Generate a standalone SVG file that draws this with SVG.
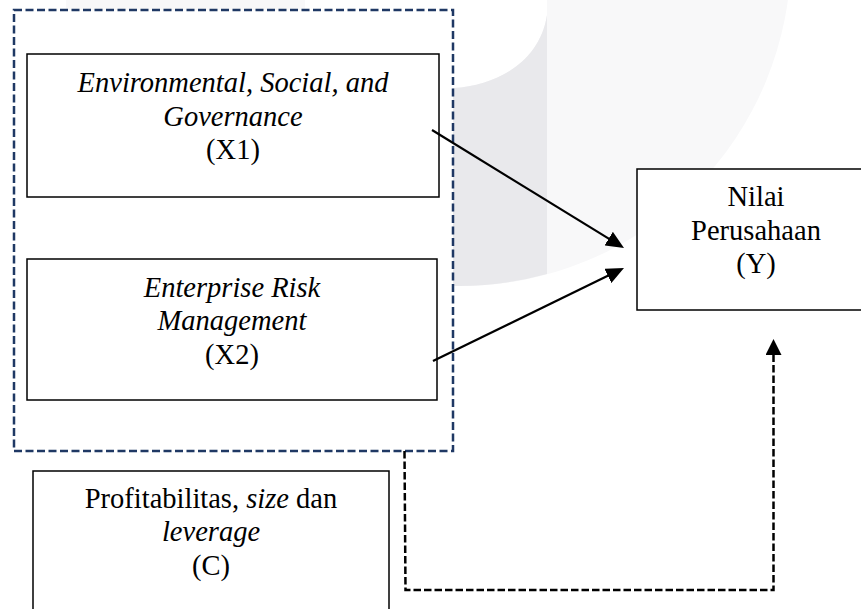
<svg xmlns="http://www.w3.org/2000/svg" width="861" height="609" viewBox="0 0 861 609">
  <defs>
    <style>
      .box { fill: #ffffff; stroke: #000000; stroke-width: 1.5; }
      .grp { fill: #ffffff; stroke: #1f3864; stroke-width: 2.5; stroke-dasharray: 8 3.5; }
      .t { font-family: 'Liberation Serif', 'Times New Roman', Times, 'DejaVu Serif', serif; font-size: 28.5px; fill: #000000; text-anchor: middle; }
      .i { font-style: italic; }
      .solid { fill: none; stroke: #000000; stroke-width: 2.2; }
      .dash { fill: none; stroke: #000000; stroke-width: 2.5; stroke-dasharray: 7.5 3; }
    </style>
    <marker id="ah" markerUnits="userSpaceOnUse" markerWidth="18" markerHeight="16" viewBox="0 0 18 16" refX="12" refY="8" orient="auto">
      <path d="M0,0 L18,8 L0,16 Z" fill="#000000"/>
    </marker>
    <marker id="ah2" markerUnits="userSpaceOnUse" markerWidth="16" markerHeight="16" viewBox="0 0 16 16" refX="10" refY="8" orient="auto">
      <path d="M0,0 L16,8 L0,16 Z" fill="#000000"/>
    </marker>
  </defs>

  <rect x="0" y="0" width="861" height="609" fill="#ffffff"/>

  <g id="watermark">
    <circle cx="460" cy="-45" r="331" fill="#f8f8f9"/>
    <rect x="66" y="0" width="239" height="14" fill="#f8f8f9"/>
    <path d="M305,0 L547,0 L547,15 C540,60 500,85 453,88 L305,88 Z" fill="#ffffff"/>
    <path d="M547,15 C540,60 500,85 453,88 L440,88 L440,285.4 A331,331 0 0 0 547,274 Z" fill="#e9e9ec"/>
  </g>

  <g id="group-box">
    <rect class="grp" x="14" y="10" width="439" height="441"/>
  </g>

  <g id="node-x1">
    <rect class="box" x="27" y="54" width="412" height="143"/>
    <text class="t i" x="233" y="92" font-family="Liberation Serif, serif">Environmental, Social, and</text>
    <text class="t i" x="233" y="125.5" font-family="Liberation Serif, serif">Governance</text>
    <text class="t" x="233" y="159" font-family="Liberation Serif, serif">(X1)</text>
  </g>

  <g id="node-x2">
    <rect class="box" x="27" y="259" width="410" height="141"/>
    <text class="t i" x="232" y="297" font-family="Liberation Serif, serif">Enterprise Risk</text>
    <text class="t i" x="232" y="330" font-family="Liberation Serif, serif">Management</text>
    <text class="t" x="232" y="364" font-family="Liberation Serif, serif">(X2)</text>
  </g>

  <g id="node-c">
    <rect class="box" x="33" y="471" width="356" height="160"/>
    <text class="t" x="211" y="508" font-family="Liberation Serif, serif">Profitabilitas, <tspan class="i">size</tspan> dan</text>
    <text class="t i" x="211" y="541" font-family="Liberation Serif, serif">leverage</text>
    <text class="t" x="211" y="575" font-family="Liberation Serif, serif">(C)</text>
  </g>

  <g id="node-y">
    <rect class="box" x="637" y="169" width="240" height="141"/>
    <text class="t" x="756" y="206" font-family="Liberation Serif, serif">Nilai</text>
    <text class="t" x="756" y="240" font-family="Liberation Serif, serif">Perusahaan</text>
    <text class="t" x="756" y="273" font-family="Liberation Serif, serif">(Y)</text>
  </g>

  <g id="connectors">
    <line class="solid" x1="432" y1="130" x2="618.9" y2="244.9" marker-end="url(#ah)"/>
    <line class="solid" x1="433" y1="361" x2="618.6" y2="270.6" marker-end="url(#ah)"/>
    <path class="dash" d="M404.5,451 L405.5,590 L773.5,590 L773.5,345" marker-end="url(#ah2)"/>
  </g>
</svg>
